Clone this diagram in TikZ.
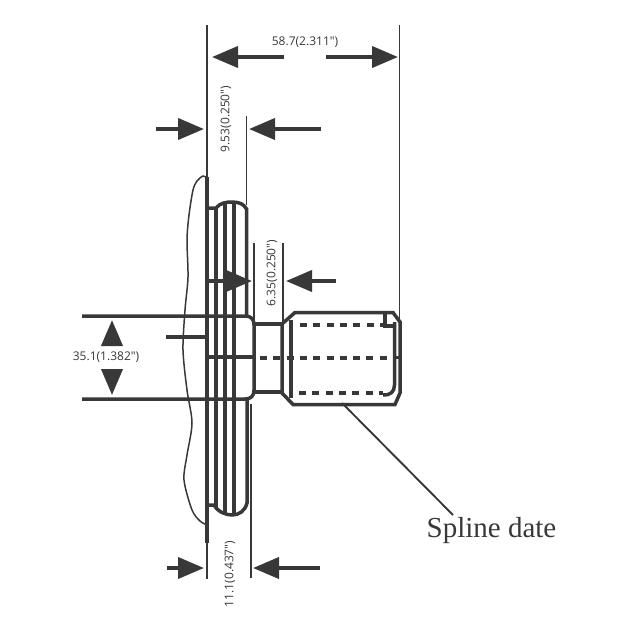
\documentclass[tikz,border=0pt]{standalone}
\usepackage{fontspec}
\setmainfont{Open Sans}
\newfontfamily\datefont{Liberation Serif}
\usetikzlibrary{arrows.meta}
\definecolor{ink}{HTML}{383838}
\tikzset{
    thinl/.style = {-,line width=1.9pt,ink},
    midl/.style = {-,line width=3.5pt,ink},
    heavyl/.style = {-,line width=4.5pt,ink},
    hiddenl/.style = {-,line width=4pt,ink,dash pattern=on 7pt off 6.3pt},
    wavel/.style = {-,line width=1.5pt,ink},
    dimarrow/.style = {-{Triangle[length=26pt,width=21pt]},line width=3.8pt,ink},
    dimlabel/.style = {font=\fontsize{12}{14}\selectfont,text=ink,inner sep=0},
    dimlabelr/.style = {dimlabel,rotate=90}
}
\begin{document}
\begin{tikzpicture}[x=1pt,y=-1pt]
\useasboundingbox (0,0) rectangle (630,630);

% witness lines
\draw[thinl] (207,25) -- (207,178);
\draw[thinl] (207,543) -- (207,579);
\draw[thinl] (399.5,25) -- (399.5,320);
\draw[thinl] (246.5,116) -- (246.5,205);
\draw[thinl] (254,243) -- (254,320);
\draw[thinl] (283,243) -- (283,323);
\draw[thinl] (251,404) -- (251,578);

% broken edge
\draw[wavel] plot[smooth] coordinates {(207,178) (203,176) (197,181) (193,190) (189,215) (187,240) (188,277) (185,310) (183,350) (187,390) (192,423) (187,455) (184,480) (192,510) (200,521) (207,525)};

% flange
\draw[heavyl] (207,177) -- (207,543);
\draw[midl] (207,208) -- (216,208) .. controls (220,203) and (226,202) .. (232,202) .. controls (239,202) and (244,204) .. (246.5,209) -- (246.5,316);
\draw[midl] (207,505) -- (214,505) .. controls (218,512) and (226,515) .. (232,515) .. controls (239,515) and (245,511) .. (247,503) -- (247,398);
\draw[midl] (216,208) -- (216,508);
\draw[midl] (225,204) -- (225,514);
\draw[heavyl] (234,203) -- (234,514);

% shaft
\draw[midl] (82,316) -- (245,316) .. controls (251,316) and (254,319) .. (254,325) -- (254,390) .. controls (254,396) and (251,399) .. (245,399) -- (82,399);
\draw[midl] (254,324) -- (282,324);
\draw[midl] (254,392) -- (282,392);
\draw[midl] (207,357) -- (254,357);
\draw[midl] (166,337) -- (207,337);

% threaded end
\draw[midl] (282,324) -- (295,312.5) -- (393,312.5) -- (400,322) -- (400,393) -- (395,404.5) -- (293,404.5) -- (282,393) -- cycle;
\draw[midl] (291,320) -- (291,398);
\draw[midl] (394.5,322) -- (394.5,385) .. controls (394.5,392) and (390,395.5) .. (383,395);
\draw[midl] (385,313) -- (385,326) -- (394,326);
\draw[hiddenl] (300,325) -- (384,325);
\draw[hiddenl] (260,357.5) -- (388,357.5);
\draw[midl] (396,357.5) -- (400,357.5);
\draw[hiddenl] (299,393) -- (383,393);

% dimensions
\draw[dimarrow] (284,57) -- (212,57);
\draw[dimarrow] (326,57) -- (398,57);
\draw[dimarrow] (156,129) -- (204,129);
\draw[dimarrow] (321,129) -- (249,129);
\draw[dimarrow] (207,281) -- (252,281);
\draw[dimarrow] (336,281) -- (286,281);
\draw[dimarrow] (112,345) -- (112,320);
\draw[dimarrow] (112,370) -- (112,395);
\draw[dimarrow] (167,568) -- (204,568);
\draw[dimarrow] (320,568) -- (253,568);

\node[dimlabel] (overall) at (305,42) {58.7(2.311″)};
\node[dimlabelr] (flangeoff) at (226,119) {9.53(0.250″)};
\node[dimlabelr] (neck) at (272,273) {6.35(0.250″)};
\node[dimlabel] (shaftdia) at (106,357) {35.1(1.382″)};
\node[dimlabelr] (flangew) at (230,574) {11.1(0.437″)};

% spline note
\node[font=\datefont\fontsize{29}{31}\selectfont,text=ink,inner sep=0] (spline) at (491.5,531) {Spline date};
\coordinate (splinept) at (342,403);
\draw[thinl] (splinept) -- (453,515);
\end{tikzpicture}
\end{document}
